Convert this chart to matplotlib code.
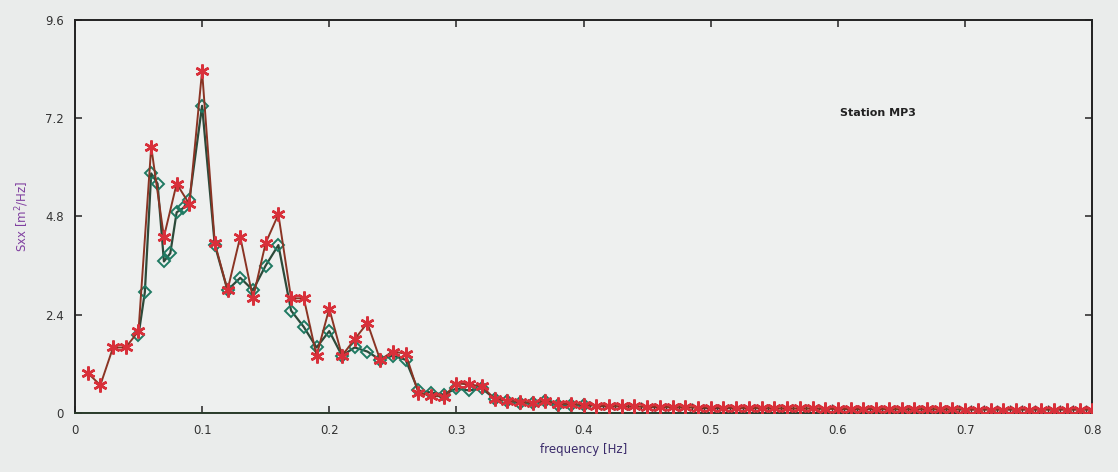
import matplotlib
matplotlib.use("Agg")
import matplotlib.pyplot as plt

# red stars, every 0.01 Hz
freq_star = [0.01, 0.02, 0.03, 0.04, 0.05, 0.06, 0.07, 0.08, 0.09, 0.10,
             0.11, 0.12, 0.13, 0.14, 0.15, 0.16, 0.17, 0.18, 0.19, 0.20,
             0.21, 0.22, 0.23, 0.24, 0.25, 0.26, 0.27, 0.28, 0.29, 0.30,
             0.31, 0.32, 0.33, 0.34, 0.35, 0.36, 0.37, 0.38, 0.39, 0.40,
             0.41, 0.42, 0.43, 0.44, 0.45, 0.46, 0.47, 0.48, 0.49, 0.50,
             0.51, 0.52, 0.53, 0.54, 0.55, 0.56, 0.57, 0.58, 0.59, 0.60,
             0.61, 0.62, 0.63, 0.64, 0.65, 0.66, 0.67, 0.68, 0.69, 0.70,
             0.71, 0.72, 0.73, 0.74, 0.75, 0.76, 0.77, 0.78, 0.79, 0.80]
sxx_star = [0.98, 0.68, 1.60, 1.60, 2.00, 6.50, 4.30, 5.60, 5.10, 8.35,
            4.15, 3.00, 4.30, 2.80, 4.15, 4.85, 2.80, 2.80, 1.40, 2.55,
            1.40, 1.80, 2.20, 1.30, 1.50, 1.45, 0.50, 0.42, 0.40, 0.72,
            0.70, 0.65, 0.35, 0.30, 0.27, 0.25, 0.30, 0.22, 0.22, 0.20,
            0.18, 0.17, 0.16, 0.16, 0.15, 0.15, 0.14, 0.14, 0.13, 0.13,
            0.13, 0.12, 0.12, 0.12, 0.11, 0.11, 0.11, 0.11, 0.10, 0.10,
            0.10, 0.10, 0.10, 0.09, 0.09, 0.09, 0.09, 0.09, 0.09, 0.08,
            0.08, 0.08, 0.08, 0.08, 0.08, 0.08, 0.08, 0.08, 0.08, 0.08]

# teal diamonds
freq_dia = [0.050, 0.055, 0.060, 0.065, 0.070, 0.075, 0.080, 0.085, 0.090,
            0.100, 0.110, 0.120, 0.130, 0.140, 0.150, 0.160, 0.170, 0.180,
            0.190, 0.200, 0.210, 0.220, 0.230, 0.240, 0.250, 0.260, 0.270,
            0.280, 0.290, 0.300, 0.310, 0.320, 0.330, 0.340, 0.350, 0.360,
            0.370, 0.380, 0.390, 0.400]
sxx_dia = [1.90, 2.95, 5.85, 5.60, 3.70, 3.90, 4.90, 5.00, 5.20,
           7.50, 4.10, 3.00, 3.30, 3.00, 3.60, 4.10, 2.50, 2.10,
           1.60, 2.00, 1.40, 1.60, 1.50, 1.30, 1.40, 1.30, 0.55,
           0.50, 0.45, 0.60, 0.55, 0.60, 0.35, 0.30, 0.25, 0.25,
           0.30, 0.20, 0.20, 0.20]

# dark crosses in the tail
freq_tail = [0.405, 0.415, 0.425, 0.435, 0.445, 0.455, 0.465, 0.475, 0.485, 0.495,
             0.505, 0.515, 0.525, 0.535, 0.545, 0.555, 0.565, 0.575, 0.585, 0.595,
             0.605, 0.615, 0.625, 0.635, 0.645, 0.655, 0.665, 0.675, 0.685, 0.695,
             0.705, 0.715, 0.725, 0.735, 0.745, 0.755, 0.765, 0.775, 0.785, 0.795]
sxx_tail = [0.19, 0.18, 0.17, 0.16, 0.16, 0.15, 0.15, 0.14, 0.14, 0.13,
            0.13, 0.13, 0.12, 0.12, 0.12, 0.12, 0.11, 0.11, 0.11, 0.11,
            0.10, 0.10, 0.10, 0.10, 0.10, 0.10, 0.10, 0.10, 0.10, 0.10,
            0.10, 0.10, 0.10, 0.10, 0.10, 0.10, 0.10, 0.10, 0.10, 0.10]

xticks = [0, 0.1, 0.2, 0.3, 0.4, 0.5, 0.6, 0.7, 0.8]
xtick_labels = ["0", "0.1", "0.2", "0.3", "0.4", "0.5", "0.6", "0.7", "0.8"]
yticks = [0, 2.4, 4.8, 7.2, 9.6]
ytick_labels = ["0", "2.4", "4.8", "7.2", "9.6"]

bg = "#eaeceb"
fig = plt.figure(figsize=(11.18, 4.72), dpi=100, facecolor=bg)
ax = fig.add_axes([0.067, 0.125, 0.910, 0.833], facecolor="#eef0ef")

ax.plot(freq_tail, sxx_tail, color="#e8a83a", lw=1.2, marker="+", ms=6,
        mec="#3a3030", mew=1.0, zorder=2)
ax.plot(freq_dia, sxx_dia, color="#2c4a3a", lw=1.6, marker="D", ms=6,
        mfc="none", mec="#1f7a62", mew=1.4, zorder=3)
ax.plot(freq_star, sxx_star, color="#8a3424", lw=1.4, marker=(6, 2, 0), ms=10,
        mec="#d8303a", mew=1.8, zorder=4)
ax.axhline(0, xmin=0, xmax=0.55, color="#5ad84a", lw=2.0, zorder=1)

ax.set_xlim(0, 0.8)
ax.set_ylim(0, 9.6)
ax.set_xticks(xticks)
ax.set_xticklabels(xtick_labels)
ax.set_yticks(yticks)
ax.set_yticklabels(ytick_labels)
ax.tick_params(direction="in", length=5, width=1.2, top=True, right=True,
               labelsize=8.5, colors="#333333", pad=8)

for side in ["top", "right", "left"]:
    ax.spines[side].set_color("#222222")
    ax.spines[side].set_linewidth(1.4)
ax.spines["bottom"].set_color("#2a3a2a")
ax.spines["bottom"].set_linewidth(1.4)

ax.text(0.602, 7.33, "Station MP3", fontsize=8, color="#222222",
        ha="left", va="center", fontweight="bold")

ax.set_xlabel("frequency [Hz]", fontsize=8.5, color="#3a2a6a", labelpad=4)
ax.set_ylabel("Sxx [m$^2$/Hz]", fontsize=8.5, color="#8040a0", labelpad=10)

fig.savefig("out.png", dpi=100, facecolor=bg)
